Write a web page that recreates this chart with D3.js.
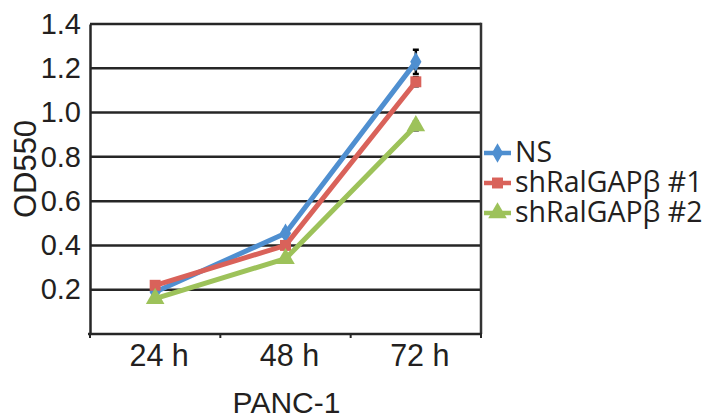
<!DOCTYPE html>
<html>
<head>
<meta charset="utf-8">
<script src="https://cdn.jsdelivr.net/npm/d3@7"></script>
<style>
    body { margin: 0; background: #fff; }
    text { fill: #231f20; }
</style>
</head>
<body>
<div id="chart"></div>
<script>
const timepoints = ["24 h", "48 h", "72 h"];
const seriesNames = ["NS", "shRalGAPβ #1", "shRalGAPβ #2"];
const nsValues = [0.19, 0.455, 1.229];
const sh1Values = [0.22, 0.40, 1.139];
const sh2Values = [0.16, 0.34, 0.94];
const nsErrors = [0.01, 0.015, 0.055];
const sh1Errors = [0.01, 0.01, 0.02];
const sh2Errors = [0.01, 0.01, 0.02];
const yTicks = [0.2, 0.4, 0.6, 0.8, 1.0, 1.2, 1.4];

const colors = ["#4f8fd0", "#d9625a", "#9dc25a"];
const shapes = [d3.symbolDiamond, d3.symbolSquare, d3.symbolTriangle];
const symbolSizes = [110, 120, 150];

function drawChart() {
    let margin =
    {
        top: 24,
        right: 229,
        bottom: 85,
        left: 90
    };

    const width = 710 - margin.left - margin.right,
        height = 419 - margin.top - margin.bottom;

    const svg = d3.select("#chart").
    append("svg").
    attr("width", 710).
    attr("height", 419).
    append("g").
    attr("transform", "translate(" + margin.left + "," + margin.top + ")");

    const x = d3.scaleBand().
    domain(timepoints).
    range([0, width]).
    padding(0);

    const y = d3.scaleLinear().
    domain([0, 1.4]).
    range([height, 0]);

    // horizontal gridlines
    svg.selectAll(".grid").
    data(yTicks).
    enter().
    append("line").
    attr("x1", 0).
    attr("x2", width).
    attr("y1", d => y(d)).
    attr("y2", d => y(d)).
    attr("stroke", "#262626").
    attr("stroke-width", 2.5);

    // right border
    svg.append("line").
    attr("x1", width).
    attr("x2", width).
    attr("y1", y(1.4) - 1.25).
    attr("y2", height).
    attr("stroke", "#333").
    attr("stroke-width", 2.5);

    // y axis
    const yAxis = svg.append("g").
    call(d3.axisLeft(y).tickValues(yTicks).tickSize(0).tickPadding(9).tickFormat(d3.format(".1f")));
    yAxis.select(".domain").
    attr("stroke", "#262626").
    attr("stroke-width", 2.5);
    yAxis.selectAll("text").
    attr("font-family", "Liberation Sans, Arial, sans-serif").
    attr("font-size", "29px").
    attr("fill", "#231f20");

    // x axis
    const xAxis = svg.append("g").
    attr("transform", "translate(0," + height + ")");
    xAxis.append("line").
    attr("x1", -2).
    attr("x2", width + 1).
    attr("stroke", "#262626").
    attr("stroke-width", 2.5);
    const boundaries = timepoints.map(t => x(t)).concat([width]);
    xAxis.selectAll(".tick").
    data(boundaries).
    enter().
    append("line").
    attr("x1", d => d).
    attr("x2", d => d).
    attr("y1", 0).
    attr("y2", 4).
    attr("stroke", "#262626").
    attr("stroke-width", 2);
    xAxis.selectAll(".lbl").
    data(timepoints).
    enter().
    append("text").
    attr("x", d => x(d) + x.bandwidth() / 2 + 4).
    attr("y", 32).
    attr("text-anchor", "middle").
    attr("font-family", "Liberation Sans, Arial, sans-serif").
    attr("font-size", "30.5px").
    text(d => d);

    // axis titles
    svg.append("text").
    attr("transform", "translate(" + (-54) + "," + (y(0.7) - 10) + ") rotate(-90)").
    attr("text-anchor", "middle").
    attr("font-family", "Liberation Sans, Arial, sans-serif").
    attr("font-size", "31px").
    text("OD550");

    svg.append("text").
    attr("x", width / 2 + 1).
    attr("y", height + 79).
    attr("text-anchor", "middle").
    attr("font-family", "Liberation Sans, Arial, sans-serif").
    attr("font-size", "30px").
    text("PANC-1");

    const series = [
        { name: seriesNames[0], values: nsValues, errors: nsErrors },
        { name: seriesNames[1], values: sh1Values, errors: sh1Errors },
        { name: seriesNames[2], values: sh2Values, errors: sh2Errors }
    ];

    const line = d3.line().
    x((d, i) => x(timepoints[i]) + x.bandwidth() / 2).
    y(d => y(d));

    // error bars drawn first, markers cover the short ones
    series.forEach((s, si) => {
        svg.selectAll(".err" + si).
        data(s.values).
        enter().
        append("path").
        attr("d", (d, i) => {
            const cx = x(timepoints[i]) + x.bandwidth() / 2;
            const y1 = y(d + s.errors[i]), y2 = y(d - s.errors[i]);
            return "M" + cx + "," + y1 + "V" + y2 +
                "M" + (cx - 3) + "," + y1 + "H" + (cx + 3) +
                "M" + (cx - 3) + "," + y2 + "H" + (cx + 3);
        }).
        attr("stroke", "#000").
        attr("stroke-width", 2.5).
        attr("fill", "none");
    });

    series.forEach((s, si) => {
        svg.append("path").
        datum(s.values).
        attr("d", line).
        attr("fill", "none").
        attr("stroke", colors[si]).
        attr("stroke-width", 5).
        attr("stroke-linejoin", "round");

        svg.selectAll(".pt" + si).
        data(s.values).
        enter().
        append("path").
        attr("d", d3.symbol().type(shapes[si]).size(symbolSizes[si])).
        attr("transform", (d, i) => "translate(" + (x(timepoints[i]) + x.bandwidth() / 2) + "," + y(d) + ")").
        attr("fill", colors[si]);
    });

    // legend
    const legend = svg.selectAll(".legend").
    data(series).
    enter().
    append("g").
    attr("transform", (d, i) => "translate(" + (width + 3) + "," + (129 + i * 30) + ")");

    legend.append("line").
    attr("x1", 0).
    attr("x2", 27).
    attr("stroke", (d, i) => colors[i]).
    attr("stroke-width", 4.5);

    legend.append("path").
    attr("d", (d, i) => d3.symbol().type(shapes[i]).size(symbolSizes[i])()).
    attr("transform", "translate(13.5,0)").
    attr("fill", (d, i) => colors[i]);

    legend.append("text").
    attr("x", 31).
    attr("y", 9).
    attr("font-family", "Open Sans, Noto Sans, sans-serif").
    attr("font-size", "28.5px").
    text(d => d.name);
}

document.addEventListener('DOMContentLoaded', () =>
{
    drawChart();
});
</script>
</body>
</html>
